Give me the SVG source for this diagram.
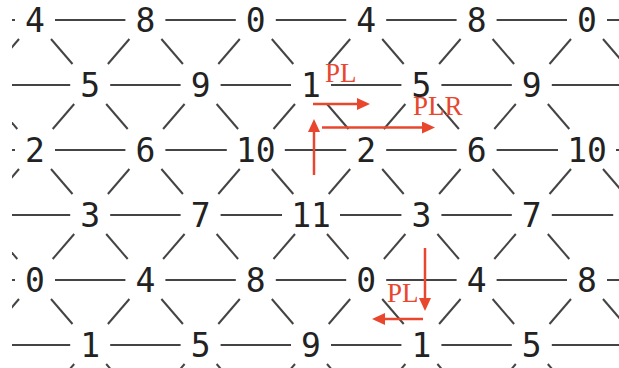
<svg xmlns="http://www.w3.org/2000/svg" xmlns:xlink="http://www.w3.org/1999/xlink" width="619" height="368" viewBox="0 0 619 368">
<style>
.n{font-family:"DejaVu Sans Mono","Liberation Mono",monospace;font-size:33px;fill:#222;text-anchor:middle}
.e{stroke:#444;stroke-width:2;fill:none}
.r{stroke:#e8472e;stroke-width:2.5;fill:none}
.rt{font-family:"Liberation Serif","DejaVu Serif",serif;font-size:27px;fill:#e8472e}
</style>
<defs>
<clipPath id="clip"><rect x="12" y="0" width="607" height="368"/></clipPath>
<line id="dr" x1="16" y1="19" x2="37.5" y2="44" class="e"/>
<line id="dl" x1="-16" y1="19" x2="-37.5" y2="44" class="e"/>
<marker id="ah" markerUnits="userSpaceOnUse" markerWidth="14" markerHeight="12" refX="7" refY="6" orient="auto" viewBox="0 0 14 12">
<path d="M0,0 L13,6 L0,12 z" fill="#e8472e"/>
</marker>
</defs>
<rect width="619" height="368" fill="#fff"/>
<g id="connectors" clip-path="url(#clip)">
<g id="horizontal" class="e">
<path d="M12,20H15M55,20H125.4M165.4,20H235.8M275.8,20H346.2M386.2,20H456.6M496.6,20H567M607,20H619"/>
<path d="M12,85H70.2M110.2,85H180.6M220.6,85H291M331,85H401.4M441.4,85H511.8M551.8,85H619"/>
<path d="M12,150H15M55,150H125.4M165.4,150H226.8M284.8,150H346.2M386.2,150H456.6M496.6,150H558M616,150H619"/>
<path d="M12,215H70.2M110.2,215H180.6M220.6,215H282M340,215H401.4M441.4,215H511.8M551.8,215H613.2"/>
<path d="M12,280H15M55,280H125.4M165.4,280H235.8M275.8,280H346.2M386.2,280H456.6M496.6,280H567M607,280H619"/>
<path d="M12,345H70.2M110.2,345H180.6M220.6,345H291M331,345H401.4M441.4,345H511.8M551.8,345H619"/>
</g>
<g id="diagonals">
<use xlink:href="#dr" x="35" y="20"/><use xlink:href="#dl" x="35" y="20"/>
<use xlink:href="#dr" x="145.4" y="20"/><use xlink:href="#dl" x="145.4" y="20"/>
<use xlink:href="#dr" x="255.8" y="20"/><use xlink:href="#dl" x="255.8" y="20"/>
<use xlink:href="#dr" x="366.2" y="20"/><use xlink:href="#dl" x="366.2" y="20"/>
<use xlink:href="#dr" x="476.6" y="20"/><use xlink:href="#dl" x="476.6" y="20"/>
<use xlink:href="#dr" x="587" y="20"/><use xlink:href="#dl" x="587" y="20"/>
<use xlink:href="#dr" x="-20.2" y="85"/>
<use xlink:href="#dr" x="90.2" y="85"/><use xlink:href="#dl" x="90.2" y="85"/>
<use xlink:href="#dr" x="200.6" y="85"/><use xlink:href="#dl" x="200.6" y="85"/>
<use xlink:href="#dr" x="311" y="85"/><use xlink:href="#dl" x="311" y="85"/>
<use xlink:href="#dr" x="421.4" y="85"/><use xlink:href="#dl" x="421.4" y="85"/>
<use xlink:href="#dr" x="531.8" y="85"/><use xlink:href="#dl" x="531.8" y="85"/>
<use xlink:href="#dr" x="35" y="150"/><use xlink:href="#dl" x="35" y="150"/>
<use xlink:href="#dr" x="145.4" y="150"/><use xlink:href="#dl" x="145.4" y="150"/>
<use xlink:href="#dr" x="255.8" y="150"/><use xlink:href="#dl" x="255.8" y="150"/>
<use xlink:href="#dr" x="366.2" y="150"/><use xlink:href="#dl" x="366.2" y="150"/>
<use xlink:href="#dr" x="476.6" y="150"/><use xlink:href="#dl" x="476.6" y="150"/>
<use xlink:href="#dr" x="587" y="150"/><use xlink:href="#dl" x="587" y="150"/>
<use xlink:href="#dr" x="-20.2" y="215"/>
<use xlink:href="#dr" x="90.2" y="215"/><use xlink:href="#dl" x="90.2" y="215"/>
<use xlink:href="#dr" x="200.6" y="215"/><use xlink:href="#dl" x="200.6" y="215"/>
<use xlink:href="#dr" x="311" y="215"/><use xlink:href="#dl" x="311" y="215"/>
<use xlink:href="#dr" x="421.4" y="215"/><use xlink:href="#dl" x="421.4" y="215"/>
<use xlink:href="#dr" x="531.8" y="215"/><use xlink:href="#dl" x="531.8" y="215"/>
<use xlink:href="#dr" x="35" y="280"/><use xlink:href="#dl" x="35" y="280"/>
<use xlink:href="#dr" x="145.4" y="280"/><use xlink:href="#dl" x="145.4" y="280"/>
<use xlink:href="#dr" x="255.8" y="280"/><use xlink:href="#dl" x="255.8" y="280"/>
<use xlink:href="#dr" x="366.2" y="280"/><use xlink:href="#dl" x="366.2" y="280"/>
<use xlink:href="#dr" x="476.6" y="280"/><use xlink:href="#dl" x="476.6" y="280"/>
<use xlink:href="#dr" x="587" y="280"/><use xlink:href="#dl" x="587" y="280"/>
<use xlink:href="#dr" x="90.2" y="345"/><use xlink:href="#dl" x="90.2" y="345"/>
<use xlink:href="#dr" x="200.6" y="345"/><use xlink:href="#dl" x="200.6" y="345"/>
<use xlink:href="#dr" x="311" y="345"/><use xlink:href="#dl" x="311" y="345"/>
<use xlink:href="#dr" x="421.4" y="345"/><use xlink:href="#dl" x="421.4" y="345"/>
<use xlink:href="#dr" x="531.8" y="345"/><use xlink:href="#dl" x="531.8" y="345"/>
</g>
</g>
<g id="n-r0-c0"><text class="n" x="35" y="32">4</text></g>
<g id="n-r0-c2"><text class="n" x="145.4" y="32">8</text></g>
<g id="n-r0-c4"><text class="n" x="255.8" y="32">0</text></g>
<g id="n-r0-c6"><text class="n" x="366.2" y="32">4</text></g>
<g id="n-r0-c8"><text class="n" x="476.6" y="32">8</text></g>
<g id="n-r0-c10"><text class="n" x="587" y="32">0</text></g>
<g id="n-r1-c1"><text class="n" x="90.2" y="97">5</text></g>
<g id="n-r1-c3"><text class="n" x="200.6" y="97">9</text></g>
<g id="n-r1-c5"><text class="n" x="311" y="97">1</text></g>
<g id="n-r1-c7"><text class="n" x="421.4" y="97">5</text></g>
<g id="n-r1-c9"><text class="n" x="531.8" y="97">9</text></g>
<g id="n-r2-c0"><text class="n" x="35" y="162">2</text></g>
<g id="n-r2-c2"><text class="n" x="145.4" y="162">6</text></g>
<g id="n-r2-c4"><text class="n" x="255.8" y="162">10</text></g>
<g id="n-r2-c6"><text class="n" x="366.2" y="162">2</text></g>
<g id="n-r2-c8"><text class="n" x="476.6" y="162">6</text></g>
<g id="n-r2-c10"><text class="n" x="587" y="162">10</text></g>
<g id="n-r3-c1"><text class="n" x="90.2" y="227">3</text></g>
<g id="n-r3-c3"><text class="n" x="200.6" y="227">7</text></g>
<g id="n-r3-c5"><text class="n" x="311" y="227">11</text></g>
<g id="n-r3-c7"><text class="n" x="421.4" y="227">3</text></g>
<g id="n-r3-c9"><text class="n" x="531.8" y="227">7</text></g>
<g id="n-r4-c0"><text class="n" x="35" y="292">0</text></g>
<g id="n-r4-c2"><text class="n" x="145.4" y="292">4</text></g>
<g id="n-r4-c4"><text class="n" x="255.8" y="292">8</text></g>
<g id="n-r4-c6"><text class="n" x="366.2" y="292">0</text></g>
<g id="n-r4-c8"><text class="n" x="476.6" y="292">4</text></g>
<g id="n-r4-c10"><text class="n" x="587" y="292">8</text></g>
<g id="n-r5-c1"><text class="n" x="90.2" y="357">1</text></g>
<g id="n-r5-c3"><text class="n" x="200.6" y="357">5</text></g>
<g id="n-r5-c5"><text class="n" x="311" y="357">9</text></g>
<g id="n-r5-c7"><text class="n" x="421.4" y="357">1</text></g>
<g id="n-r5-c9"><text class="n" x="531.8" y="357">5</text></g>
<g id="annotations">
<path class="r" d="M313,104H364" marker-end="url(#ah)"/>
<path class="r" d="M314,175V125" marker-end="url(#ah)"/>
<path class="r" d="M322,127.5H429" marker-end="url(#ah)"/>
<path class="r" d="M425,248V305" marker-end="url(#ah)"/>
<path class="r" d="M423,319H378" marker-end="url(#ah)"/>
<text class="rt" x="325" y="81.5">PL</text>
<text class="rt" x="413" y="114.5">PLR</text>
<text class="rt" x="387" y="301.5">PL</text>
</g>
</svg>
